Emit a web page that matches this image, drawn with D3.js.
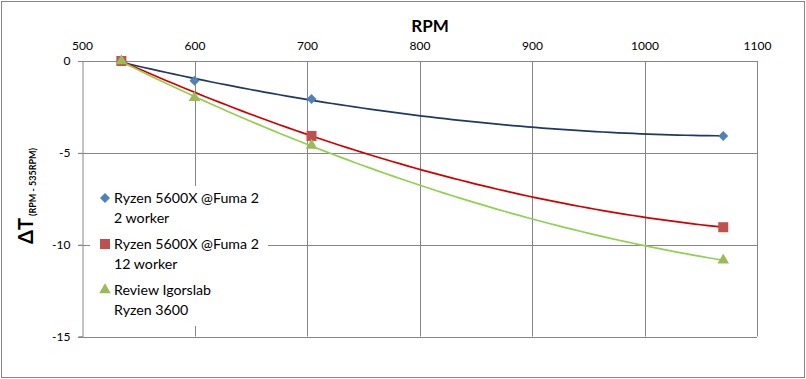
<!DOCTYPE html>
<html>
<head>
<meta charset="utf-8">
<script src="https://cdn.jsdelivr.net/npm/d3@7"></script>
<style>
  body { margin: 0; background: #fff; }
  svg text { font-family: Lato, "Liberation Sans", sans-serif; fill: #000; }
</style>
</head>
<body>
<div id="chart"></div>
<script>
// data
const seriesNames = [
    ['Ryzen 5600X @Fuma 2', '2 worker'],
    ['Ryzen 5600X @Fuma 2', '12 worker'],
    ['Review Igorslab', 'Ryzen 3600']
]
const rpm2Worker = [535, 600, 704, 1070]
const dT2Worker = [0, -1.08, -2.07, -4.08]
const rpm12Worker = [535, 704, 1070]
const dT12Worker = [0, -4.08, -9.05]
const rpmIgor = [535, 600, 704, 1070]
const dTIgor = [0, -2.0, -4.6, -10.85]
const xTicks = [500, 600, 700, 800, 900, 1000, 1100]
const yTicks = [0, -5, -10, -15]

// canvas
const width = 806
const height = 379
const plot = { left: 82, right: 757, top: 61, bottom: 336.5 }
const svg = d3.select('#chart').append('svg')
    .attr('width', width)
    .attr('height', height)
svg.append('rect')
    .attr('x', 1.5).attr('y', 1.5)
    .attr('width', width - 3).attr('height', height - 3)
    .attr('fill', '#fff')
    .attr('stroke', '#868686')

const xScale = d3.scaleLinear().domain([500, 1100]).range([plot.left, plot.right])
const yScale = d3.scaleLinear().domain([-15, 0]).range([plot.bottom, plot.top])
const gridCol = '#868686'

// grid
const gridG = svg.append('g').attr('class', 'grid')
gridG.selectAll('line.v').data(xTicks.slice(1)).join('line')
    .attr('class', 'v')
    .attr('x1', d => Math.round(xScale(d)) + 0.5).attr('x2', d => Math.round(xScale(d)) + 0.5)
    .attr('y1', plot.top).attr('y2', plot.bottom)
    .attr('stroke', gridCol)
gridG.selectAll('line.h').data(yTicks.slice(1)).join('line')
    .attr('class', 'h')
    .attr('x1', plot.left - 4).attr('x2', plot.right)
    .attr('y1', d => Math.round(yScale(d)) + 0.5).attr('y2', d => Math.round(yScale(d)) + 0.5)
    .attr('stroke', gridCol)

// axes
const xAxis = d3.axisTop(xScale).tickValues(xTicks).tickSize(0).tickPadding(12)
    .tickFormat(d3.format('d'))
const xAxisG = svg.append('g')
    .attr('transform', `translate(0, ${Math.round(plot.top) + 0.5})`)
    .call(xAxis)
xAxisG.select('.domain').attr('stroke', gridCol).attr('d', `M${plot.left - 4},0H${plot.right}`)
xAxisG.selectAll('text').attr('font-size', 12).attr('font-family', 'Lato')

const yAxis = d3.axisLeft(yScale).tickValues(yTicks).tickSize(4).tickPadding(8)
    .tickFormat(d => d === 0 ? '0' : '-' + Math.abs(d))
const yAxisG = svg.append('g')
    .attr('transform', `translate(${plot.left + 0.5}, 0)`)
    .call(yAxis)
yAxisG.select('.domain').attr('stroke', gridCol)
yAxisG.selectAll('line').attr('stroke', gridCol)
yAxisG.selectAll('text').attr('font-size', 12).attr('font-family', 'Lato')

// titles
svg.append('text')
    .attr('x', 430).attr('y', 32)
    .attr('text-anchor', 'middle')
    .attr('font-size', 17)
    .attr('font-weight', 'bold')
    .text('RPM')
const yTitle = svg.append('text')
    .attr('transform', 'translate(33, 244) rotate(-90)')
    .attr('font-weight', 'bold')
yTitle.append('tspan').attr('font-size', 20).text('ΔT')
yTitle.append('tspan').attr('font-size', 9).attr('dy', 3).attr('dx', 2).text('(RPM - 535RPM)')

// polynomial (order 2) trendline, like the spreadsheet trendline
function quadFit(xs, ys) {
    const n = xs.length
    let s = [0, 0, 0, 0, 0], t = [0, 0, 0]
    for (let i = 0; i < n; i++) {
        const u = xs[i] - 500
        for (let k = 0; k < 5; k++) s[k] += Math.pow(u, k)
        for (let k = 0; k < 3; k++) t[k] += ys[i] * Math.pow(u, k)
    }
    const M = [[s[0], s[1], s[2], t[0]], [s[1], s[2], s[3], t[1]], [s[2], s[3], s[4], t[2]]]
    for (let i = 0; i < 3; i++) {
        for (let j = i + 1; j < 3; j++) {
            const f = M[j][i] / M[i][i]
            for (let k = i; k < 4; k++) M[j][k] -= f * M[i][k]
        }
    }
    const c = [0, 0, 0]
    for (let i = 2; i >= 0; i--) {
        let v = M[i][3]
        for (let k = i + 1; k < 3; k++) v -= M[i][k] * c[k]
        c[i] = v / M[i][i]
    }
    return u => c[0] + c[1] * (u - 500) + c[2] * (u - 500) * (u - 500)
}

const series = [
    { xs: rpm2Worker, ys: dT2Worker, line: '#1f3864', fill: '#4f81bd', sym: d3.symbolSquare, size: 50, rot: 45, names: seriesNames[0] },
    { xs: rpm12Worker, ys: dT12Worker, line: '#d00000', fill: '#c0504d', sym: d3.symbolSquare, size: 100, rot: 0, names: seriesNames[1] },
    { xs: rpmIgor, ys: dTIgor, line: '#92d050', fill: '#9bbb59', sym: d3.symbolTriangle, size: 58, rot: 0, names: seriesNames[2] }
]

const lineGen = d3.line().x(d => xScale(d[0])).y(d => yScale(d[1]))
const markG = svg.append('g')
series.forEach(s => {
    const f = quadFit(s.xs, s.ys)
    const ext = d3.extent(s.xs)
    const pts = d3.range(ext[0], ext[1] + 0.01, (ext[1] - ext[0]) / 80).map(x => [x, f(x)])
    markG.append('path')
        .attr('d', lineGen(pts))
        .attr('fill', 'none')
        .attr('stroke', s.line)
        .attr('stroke-width', 1.7)
})
series.forEach(s => {
    markG.selectAll(null).data(s.xs.map((x, i) => [x, s.ys[i]])).join('path')
        .attr('transform', d => `translate(${xScale(d[0])}, ${yScale(d[1])}) rotate(${s.rot})`)
        .attr('d', d3.symbol(s.sym, s.size))
        .attr('fill', s.fill)
})

// legend
const legG = svg.append('g').attr('transform', 'translate(90, 186)')
legG.append('rect')
    .attr('width', 178).attr('height', 140)
    .attr('fill', '#fff')
const rowY = [0, 46, 92]
series.forEach((s, i) => {
    const g = legG.append('g').attr('transform', `translate(0, ${rowY[i]})`)
    g.append('path')
        .attr('transform', `translate(15, 12) rotate(${s.rot})`)
        .attr('d', d3.symbol(s.sym, s.size))
        .attr('fill', s.fill)
    g.selectAll('text').data(s.names).join('text')
        .attr('x', 24)
        .attr('y', (d, j) => 16.5 + j * 20)
        .attr('font-size', 14.2)
        .text(d => d)
})
</script>
</body>
</html>
